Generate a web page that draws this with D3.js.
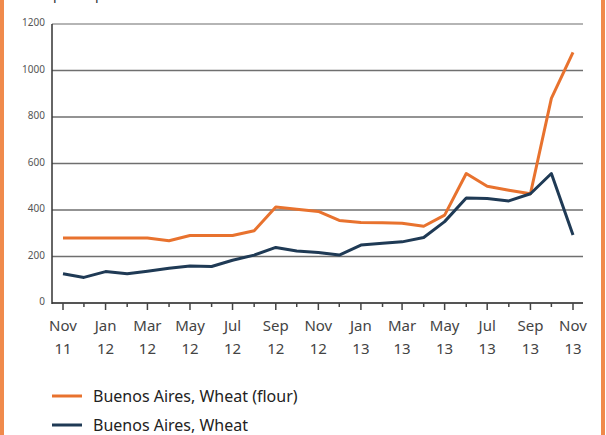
<!DOCTYPE html>
<html>
<head>
<meta charset="utf-8">
<script src="https://cdn.jsdelivr.net/npm/d3@7"></script>
<style>
  body { margin: 0; background: #fff; }
  svg { display: block; font-family: "Noto Sans", sans-serif; }
</style>
</head>
<body>
<div id="chart"></div>
<script>
var months = ['2011-11','2011-12','2012-01','2012-02','2012-03','2012-04','2012-05','2012-06','2012-07','2012-08','2012-09','2012-10',
              '2012-11','2012-12','2013-01','2013-02','2013-03','2013-04','2013-05','2013-06','2013-07','2013-08','2013-09','2013-10','2013-11'];
var flour = [280,280,280,280,280,268,290,290,290,311,413,403,394,355,346,345,343,330,378,557,502,485,470,880,1078];
var wheat = [126,110,135,126,137,149,159,157,184,206,239,224,217,206,249,257,263,282,350,452,449,439,470,557,292];
var yTicks = [0,200,400,600,800,1000,1200];
var seriesNames = ['Buenos Aires, Wheat (flour)', 'Buenos Aires, Wheat'];
var colors = ['#e8722e', '#1f3a55'];

var W = 606, H = 435;
var margin = { top: 24, right: 23, bottom: 132, left: 52 };
var parse = d3.timeParse('%Y-%m');
var dates = months.map(parse);
var fmtM = d3.timeFormat('%b'), fmtY = d3.timeFormat('%y');

var svg = d3.select('#chart').append('svg')
	.attr('width', W)
	.attr('height', H);

// orange frame edges
svg.append('rect').attr('x', 0).attr('y', 0).attr('width', 4).attr('height', H).attr('fill', '#f08a4c');
svg.append('rect').attr('x', 601).attr('y', 0).attr('width', 4).attr('height', H).attr('fill', '#f08a4c');

// cut-off unit label at top
svg.append('text')
	.attr('x', 53).attr('y', -1)
	.style('font-size', '14px').attr('fill', '#333')
	.text('pesos per tonne');

var x = d3.scaleTime()
	.domain([dates[0], dates[dates.length - 1]])
	.range([63, 573]);
var y = d3.scaleLinear()
	.domain([0, 1200])
	.range([303, 24]);

// gridlines
svg.selectAll('.grid')
	.data(yTicks.filter(function(d) { return d > 0; }))
	.enter().append('line')
	.attr('class', 'grid')
	.attr('x1', margin.left).attr('x2', 583)
	.attr('y1', function(d) { return y(d); })
	.attr('y2', function(d) { return y(d); })
	.attr('stroke', function(d) { return d === 1200 ? '#b5b5b5' : '#6f6f6f'; })
	.attr('stroke-width', function(d) { return d === 1200 ? 2 : 1.3; });

// y labels
svg.selectAll('.ylab')
	.data(yTicks)
	.enter().append('text')
	.attr('class', 'ylab')
	.attr('x', 45)
	.attr('y', function(d) { return y(d) + 2; })
	.attr('text-anchor', 'end')
	.style('font-size', '10px')
	.attr('fill', '#555')
	.text(function(d) { return d; });

// x axis: minor ticks every month, major every two
var xAxisG = svg.append('g').attr('transform', 'translate(0,' + y(0) + ')');
xAxisG.append('line').attr('x1', margin.left).attr('x2', 583).attr('stroke', '#555').attr('stroke-width', 2);
xAxisG.selectAll('.tick')
	.data(dates)
	.enter().append('line')
	.attr('x1', function(d) { return x(d); })
	.attr('x2', function(d) { return x(d); })
	.attr('y1', 0)
	.attr('y2', function(d, i) { return i % 2 === 0 ? 7 : 4; })
	.attr('stroke', '#444').attr('stroke-width', 1.5);

var lab = xAxisG.selectAll('.xlab')
	.data(dates.filter(function(d, i) { return i % 2 === 0; }))
	.enter().append('text')
	.attr('class', 'xlab')
	.attr('text-anchor', 'middle')
	.style('font-size', '15px')
	.attr('fill', '#444');
lab.append('tspan').attr('x', function(d) { return x(d); }).attr('y', 28).text(fmtM);
lab.append('tspan').attr('x', function(d) { return x(d); }).attr('y', 51).text(fmtY);

// y axis line
svg.append('line')
	.attr('x1', margin.left).attr('x2', margin.left)
	.attr('y1', y(1200)).attr('y2', y(0) + 1)
	.attr('stroke', '#333').attr('stroke-width', 1.5);

// series lines
var line = d3.line()
	.x(function(d, i) { return x(dates[i]); })
	.y(function(d) { return y(d); });

[flour, wheat].forEach(function(s, k) {
	svg.append('path')
		.datum(s)
		.attr('d', line)
		.attr('fill', 'none')
		.attr('stroke', colors[k])
		.attr('stroke-width', 3)
		.attr('stroke-linejoin', 'round');
});

// legend
var legend = svg.selectAll('.legend')
	.data(seriesNames)
	.enter().append('g')
	.attr('class', 'legend')
	.attr('transform', function(d, i) { return 'translate(0,' + (396 + i * 29) + ')'; });
legend.append('line')
	.attr('x1', 52).attr('x2', 82)
	.attr('stroke', function(d, i) { return colors[i]; })
	.attr('stroke-width', 3);
legend.append('text')
	.attr('x', 93).attr('y', 5.5)
	.style('font-size', '16px')
	.attr('fill', '#222')
	.text(function(d) { return d; });
</script>
</body>
</html>
